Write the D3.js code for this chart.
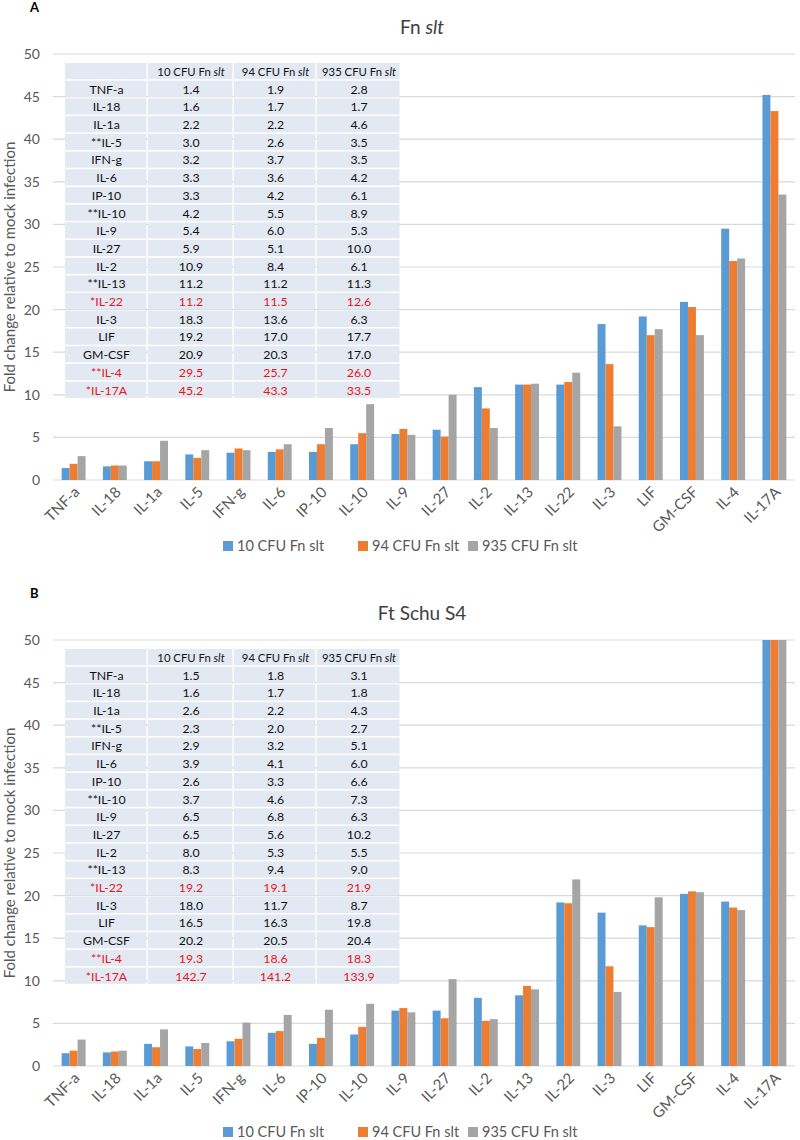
<!DOCTYPE html>
<html>
<head>
<meta charset="utf-8">
<script src="https://cdn.jsdelivr.net/npm/d3@7"></script>
<style>
  body { margin: 0; background: #fff; }
  text { font-family: Lato, "Open Sans", sans-serif; }
</style>
</head>
<body>
<svg id="chart"></svg>
<script>
const cytokines = ["TNF-a", "IL-18", "IL-1a", "IL-5", "IFN-g", "IL-6", "IP-10", "IL-10", "IL-9",
    "IL-27", "IL-2", "IL-13", "IL-22", "IL-3", "LIF", "GM-CSF", "IL-4", "IL-17A"];
const tableRowNames = ["TNF-a", "IL-18", "IL-1a", "**IL-5", "IFN-g", "IL-6", "IP-10", "**IL-10", "IL-9",
    "IL-27", "IL-2", "**IL-13", "*IL-22", "IL-3", "LIF", "GM-CSF", "**IL-4", "*IL-17A"];
const redRows = ["*IL-22", "**IL-4", "*IL-17A"];
const seriesNames = ["10 CFU Fn slt", "94 CFU Fn slt", "935 CFU Fn slt"];
const yTicks = [0, 5, 10, 15, 20, 25, 30, 35, 40, 45, 50];

// panel A: Fn slt
const fnSlt10 = [1.4, 1.6, 2.2, 3.0, 3.2, 3.3, 3.3, 4.2, 5.4, 5.9, 10.9, 11.2, 11.2, 18.3, 19.2, 20.9, 29.5, 45.2];
const fnSlt94 = [1.9, 1.7, 2.2, 2.6, 3.7, 3.6, 4.2, 5.5, 6.0, 5.1, 8.4, 11.2, 11.5, 13.6, 17.0, 20.3, 25.7, 43.3];
const fnSlt935 = [2.8, 1.7, 4.6, 3.5, 3.5, 4.2, 6.1, 8.9, 5.3, 10.0, 6.1, 11.3, 12.6, 6.3, 17.7, 17.0, 26.0, 33.5];

// panel B: Ft Schu S4
const schu10 = [1.5, 1.6, 2.6, 2.3, 2.9, 3.9, 2.6, 3.7, 6.5, 6.5, 8.0, 8.3, 19.2, 18.0, 16.5, 20.2, 19.3, 142.7];
const schu94 = [1.8, 1.7, 2.2, 2.0, 3.2, 4.1, 3.3, 4.6, 6.8, 5.6, 5.3, 9.4, 19.1, 11.7, 16.3, 20.5, 18.6, 141.2];
const schu935 = [3.1, 1.8, 4.3, 2.7, 5.1, 6.0, 6.6, 7.3, 6.3, 10.2, 5.5, 9.0, 21.9, 8.7, 19.8, 20.4, 18.3, 133.9];

const colors = ["#5b9bd5", "#ed7d31", "#a5a5a5"];
const W = 800, H = 1140;

const svg = d3.select("#chart").attr("width", W).attr("height", H);

function drawPanel(opts) {
    const g = svg.append("g");
    const left = 53, right = 795;
    const top = opts.top, bottom = opts.top + 426;

    g.append("text").attr("x", 30).attr("y", opts.top - 42)
        .attr("font-size", 13).attr("font-weight", "bold").attr("fill", "#000")
        .text(opts.letter);

    const title = g.append("text").attr("x", 422).attr("y", opts.top - 20)
        .attr("text-anchor", "middle").attr("font-size", 19).attr("fill", "#404040");
    title.append("tspan").text(opts.title[0]);
    if (opts.title[1]) title.append("tspan").attr("font-style", "italic").text(opts.title[1]);

    const x = d3.scaleBand().domain(cytokines).range([left, right]).paddingInner(0.42).paddingOuter(0.21);
    const xs = d3.scaleBand().domain(d3.range(3)).range([0, x.bandwidth()]);
    const y = d3.scaleLinear().domain([0, 50]).range([bottom, top]).clamp(true);

    // gridlines
    g.append("g").selectAll("line").data(yTicks).join("line")
        .attr("x1", left).attr("x2", right)
        .attr("y1", d => y(d)).attr("y2", d => y(d))
        .attr("stroke", "#d9d9d9").attr("stroke-width", 1.2);

    // y tick labels
    g.append("g").selectAll("text").data(yTicks).join("text")
        .attr("x", 40).attr("y", d => y(d)).attr("dy", "0.35em")
        .attr("text-anchor", "end").attr("font-size", 14).attr("fill", "#595959")
        .text(d => d);

    g.append("text")
        .attr("transform", `translate(15, ${(top + bottom) / 2}) rotate(-90)`)
        .attr("text-anchor", "middle").attr("font-size", 15).attr("fill", "#595959")
        .text("Fold change relative to mock infection");

    // bars
    const rows = cytokines.map((c, i) => ({ c, vals: opts.series.map(s => s[i]) }));
    const groups = g.append("g").selectAll("g").data(rows).join("g")
        .attr("transform", d => `translate(${x(d.c)},0)`);
    groups.selectAll("rect").data(d => d.vals).join("rect")
        .attr("x", (d, i) => xs(i)).attr("width", xs.bandwidth())
        .attr("y", d => y(d)).attr("height", d => bottom - y(d))
        .attr("fill", (d, i) => colors[i]);

    // x labels
    g.append("g").selectAll("text").data(cytokines).join("text")
        .attr("transform", d => `translate(${x(d) + x.bandwidth() / 2 + 7}, ${bottom + 13}) rotate(-45)`)
        .attr("text-anchor", "end").attr("font-size", 15).attr("fill", "#595959")
        .text(d => d);

    // table
    const tx = 65, ty = top + 9, rh = 17.7;
    const colW = [83, 86, 83, 84];
    const colX = [0, 83, 169, 252].map(v => v + tx);
    const tbl = g.append("g");
    const allRows = [["", ...seriesNames]].concat(tableRowNames.map((n, i) => [n, ...opts.series.map(s => s[i].toFixed(1))]));
    allRows.forEach((r, ri) => {
        r.forEach((cell, ci) => {
            tbl.append("rect").attr("x", colX[ci]).attr("y", ty + ri * rh)
                .attr("width", colW[ci] - 1.5).attr("height", rh - 1.5)
                .attr("fill", "#e3e9f2");
            const t = tbl.append("text").attr("x", colX[ci] + colW[ci] / 2)
                .attr("y", ty + ri * rh + rh / 2).attr("dy", "0.33em")
                .attr("text-anchor", "middle").attr("font-size", ri === 0 ? 11.3 : 12.3)
                .attr("fill", redRows.includes(r[0]) ? "#e8141b" : "#111");
            if (ri === 0 && ci > 0) {
                t.append("tspan").text(cell.replace(/slt$/, ""));
                t.append("tspan").attr("font-style", "italic").text("slt");
            } else {
                t.text(cell);
            }
        });
    });

    // legend
    const lg = g.append("g").attr("transform", `translate(0, ${opts.top + 492})`);
    const lx = [223, 358, 468];
    seriesNames.forEach((s, i) => {
        lg.append("rect").attr("x", lx[i]).attr("y", -5).attr("width", 10).attr("height", 10).attr("fill", colors[i]);
        lg.append("text").attr("x", lx[i] + 14).attr("y", 0).attr("dy", "0.35em")
            .attr("font-size", 14.5).attr("fill", "#595959").text(s);
    });
}

drawPanel({ letter: "A", title: ["Fn ", "slt"], top: 54, series: [fnSlt10, fnSlt94, fnSlt935] });
drawPanel({ letter: "B", title: ["Ft Schu S4"], top: 640, series: [schu10, schu94, schu935] });
</script>
</body>
</html>
